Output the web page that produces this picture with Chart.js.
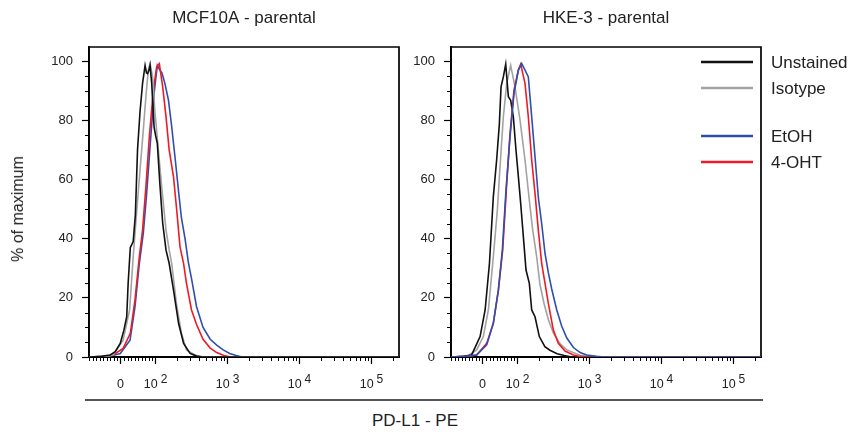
<!DOCTYPE html>
<html><head><meta charset="utf-8">
<script src="https://cdn.jsdelivr.net/npm/chart.js@4.4.1/dist/chart.umd.min.js"></script>
<style>
html,body{margin:0;padding:0;background:#fff;}
body{width:851px;height:435px;position:relative;overflow:hidden;font-family:"Liberation Sans",Arial,sans-serif;color:#222;}
canvas.panel{position:absolute;top:0;}
#ytitle{position:absolute;left:18px;top:209px;transform:translate(-50%,-50%) rotate(-90deg);white-space:nowrap;font-size:16px;line-height:16px;}
#xtitle{position:absolute;left:415px;top:412px;transform:translateX(-50%);white-space:nowrap;font-size:17px;line-height:17px;}
#xline{position:absolute;left:85px;top:399px;width:678px;height:1.5px;background:#555;}
</style></head><body>
<canvas id="c0" class="panel" width="410" height="400" style="left:0px"></canvas>
<canvas id="c1" class="panel" width="489" height="400" style="left:362px"></canvas>
<div id="ytitle">% of maximum</div>
<div id="xline"></div>
<div id="xtitle">PD-L1 - PE</div>
<script>
// ---------- data ----------
// x values are positions on the biexponential (logicle) display scale, in decades:
// 2 = 10^2, 3 = 10^3 ... ; the "0" of the data sits at X_ZERO.
const panelTitles = ['MCF10A - parental', 'HKE-3 - parental'];
const seriesNames = ['Unstained', 'Isotype', 'EtOH', '4-OHT'];
const X_MIN = 1.076, X_MAX = 5.382, X_ZERO = 1.514;
const Y_MAX = 104.8;
const xTickPos  = [X_ZERO, 2, 3, 4, 5];
const xTickBase = ['0', '10', '10', '10', '10'];
const xTickExp  = ['', '2', '3', '4', '5'];
const yTicks = [0, 20, 40, 60, 80, 100];

const mcfUnstained = [[1.08,0],[1.25,0.2],[1.37,0.7],[1.44,1.8],[1.51,4.6],[1.56,9],[1.60,13.6],[1.62,25],[1.65,37],[1.69,39],[1.72,48],[1.75,70],[1.785,83],[1.82,92.5],[1.855,98.6],[1.875,96],[1.89,95.8],[1.91,97],[1.924,98.6],[1.947,92.5],[1.98,77.8],[2.0,75],[2.025,72.2],[2.06,58.7],[2.10,45.2],[2.146,36.1],[2.19,31.6],[2.25,22.6],[2.32,11.4],[2.39,4.6],[2.48,1.2],[2.57,0.3],[2.65,0],[5.38,0]];
const mcfIsotype = [[1.08,0],[1.30,0.2],[1.41,0.7],[1.55,5.7],[1.64,15.9],[1.69,33.9],[1.74,49.7],[1.785,63.2],[1.83,76.7],[1.87,89.1],[1.90,97],[1.924,99.2],[1.96,94.7],[1.99,83.4],[2.04,69.9],[2.09,56.4],[2.146,42.9],[2.19,36.1],[2.225,31.6],[2.29,18.1],[2.36,8],[2.43,2.4],[2.55,0.7],[2.66,0],[5.38,0]];
const mcfEtOH = [[1.08,0],[1.35,0.2],[1.51,1.2],[1.646,5.7],[1.715,17],[1.775,31.6],[1.83,41.8],[1.877,55.3],[1.924,71.1],[1.98,89.1],[2.025,98.6],[2.06,97],[2.09,96],[2.13,92.5],[2.18,86.8],[2.225,77.8],[2.27,67.7],[2.32,56],[2.36,47],[2.41,40],[2.456,32],[2.50,26.5],[2.57,17],[2.66,10],[2.76,6],[2.85,4],[2.94,2.4],[3.03,1.2],[3.12,0.5],[3.2,0],[5.38,0]];
const mcfOHT = [[1.08,0],[1.30,0.2],[1.41,0.7],[1.55,2.9],[1.65,8],[1.715,19.3],[1.775,33.9],[1.82,42.9],[1.87,58.7],[1.914,74.4],[1.97,90.2],[2.016,98.1],[2.053,99.2],[2.10,91.3],[2.146,81.2],[2.19,69.9],[2.25,60.9],[2.29,50.8],[2.34,37.3],[2.39,31.6],[2.43,24.9],[2.50,15.9],[2.57,11],[2.66,6],[2.76,3],[2.85,1.5],[2.95,0.5],[3.05,0],[5.38,0]];

const hkeUnstained = [[1.08,0],[1.25,0.2],[1.363,0.7],[1.48,6.9],[1.55,15.9],[1.61,31.6],[1.664,54.2],[1.71,66.6],[1.748,78.9],[1.771,91.3],[1.803,94.7],[1.836,99],[1.873,88],[1.905,86.8],[1.942,81.2],[1.979,69.9],[2.012,60.9],[2.044,51.9],[2.081,40.7],[2.118,29.4],[2.164,24.9],[2.197,15.9],[2.243,13.6],[2.303,6.9],[2.38,3.5],[2.45,2.3],[2.55,1.1],[2.65,0.5],[2.75,0],[5.38,0]];
const hkeIsotype = [[1.08,0],[1.3,0.3],[1.433,2.4],[1.525,6.9],[1.595,15.9],[1.664,33.9],[1.72,49.7],[1.757,64.3],[1.803,81.2],[1.85,92.5],[1.905,98.6],[1.965,91.3],[2.035,80.1],[2.104,66.6],[2.164,53],[2.211,42.9],[2.266,33.9],[2.312,24.5],[2.368,18.1],[2.43,12.5],[2.5,8],[2.59,4.5],[2.68,2.5],[2.77,1.5],[2.87,0.6],[2.97,0.2],[3.05,0],[5.38,0]];
const hkeEtOH = [[1.08,0],[1.3,0.2],[1.433,0.7],[1.572,4.1],[1.664,11.4],[1.734,22.6],[1.789,36.1],[1.84,56.4],[1.896,74.4],[1.951,89.1],[2.012,97],[2.058,99.2],[2.104,97],[2.15,94.7],[2.197,81.2],[2.243,67.7],[2.289,54],[2.336,45],[2.382,35],[2.428,28.5],[2.475,23],[2.544,16],[2.613,10.5],[2.683,6.5],[2.776,3.2],[2.87,1.5],[2.96,0.7],[3.1,0.2],[3.2,0],[5.38,0]];
const hkeOHT = [[1.08,0],[1.3,0.2],[1.433,0.7],[1.572,4.6],[1.664,11.4],[1.734,22.6],[1.794,36.1],[1.85,58.7],[1.896,75.6],[1.951,90.2],[2.012,97],[2.044,99],[2.104,92.5],[2.15,81.2],[2.197,66.6],[2.243,55.3],[2.289,42.9],[2.336,31.6],[2.382,24.9],[2.428,18.1],[2.498,9.1],[2.567,4.6],[2.66,2],[2.776,0.7],[2.87,0.2],[2.95,0],[5.38,0]];

// ---------- style ----------
const FONT = '"Liberation Sans", Arial, sans-serif';
const seriesColors = ['#111111', '#a3a3a3', '#2f4fae', '#ec1c26'];
const TEXT = '#222';

// minor tick positions on the display scale
const xMinor = [];
for (let v = -90; v <= 90; v += 10) { if (v !== 0) xMinor.push(X_ZERO + v / 100 * (2 - X_ZERO)); }
for (let k = 2; k <= 5; k++) for (let m = 2; m <= 9; m++) xMinor.push(k + Math.log10(m));
const yMinor = [];
for (let v = 5; v <= 100; v += 5) if (v % 20 !== 0) yMinor.push(v);

const framePlugin = {
  id: 'frame',
  beforeDatasetsDraw(chart) {
    const {ctx, chartArea: {left, top, right, bottom}} = chart;
    ctx.save();
    ctx.strokeStyle = '#000'; ctx.lineWidth = 1.7;
    ctx.beginPath();
    ctx.moveTo(left, bottom); ctx.lineTo(left, top); ctx.lineTo(right, top); ctx.lineTo(right, bottom);
    ctx.stroke();
    ctx.restore();
  },
  afterDraw(chart) {
    const {ctx, chartArea: {left, bottom}} = chart;
    const xs = chart.scales.x, ys = chart.scales.y;
    ctx.save();
    ctx.strokeStyle = '#000'; ctx.lineWidth = 1;
    ctx.beginPath();
    xMinor.forEach(v => {
      if (v <= X_MIN || v >= X_MAX) return;
      const px = Math.round(xs.getPixelForValue(v)) + 0.5;
      ctx.moveTo(px, bottom); ctx.lineTo(px, bottom + 4);
    });
    yMinor.forEach(v => {
      const py = Math.round(ys.getPixelForValue(v)) + 0.5;
      ctx.moveTo(left - 4, py); ctx.lineTo(left, py);
    });
    ctx.stroke();
    // x tick labels with superscript exponents
    ctx.fillStyle = TEXT;
    ctx.textBaseline = 'alphabetic';
    ctx.textAlign = 'left';
    xTickPos.forEach((pos, i) => {
      const px = xs.getPixelForValue(pos);
      const baseFont = '12.5px ' + FONT, expFont = '12px ' + FONT;
      ctx.font = baseFont;
      const wb = ctx.measureText(xTickBase[i]).width;
      ctx.font = expFont;
      const we = xTickExp[i] ? ctx.measureText(xTickExp[i]).width : 0;
      const gap = xTickExp[i] ? 3 : 0;
      const x0 = px - (wb + gap + we) / 2;
      ctx.font = baseFont;
      ctx.fillText(xTickBase[i], x0, bottom + 31);
      if (xTickExp[i]) { ctx.font = expFont; ctx.fillText(xTickExp[i], x0 + wb + gap, bottom + 26); }
    });
    ctx.restore();
  }
};

const legendRowsY = [15, 41, 89, 115];
const legendPlugin = {
  id: 'sideLegend',
  afterDraw(chart) {
    const {ctx, chartArea: {top, right}} = chart;
    ctx.save();
    seriesNames.forEach((name, i) => {
      const y = top + legendRowsY[i];
      ctx.strokeStyle = seriesColors[i]; ctx.lineWidth = 2.5;
      ctx.beginPath(); ctx.moveTo(right - 60, y); ctx.lineTo(right - 8, y); ctx.stroke();
      ctx.fillStyle = TEXT; ctx.font = '17px ' + FONT;
      ctx.textBaseline = 'middle'; ctx.textAlign = 'left';
      ctx.fillText(name, right + 10, y + 1.5);
    });
    ctx.restore();
  }
};

function makeChart(id, title, series, order, padRight, withLegend) {
  const datasets = order.map(i => ({
    label: seriesNames[i],
    data: series[i],
    borderColor: seriesColors[i],
    backgroundColor: seriesColors[i],
    borderWidth: 1.6,
    pointRadius: 0,
    tension: 0,
    fill: false
  }));
  const axisGrid = { display: true, drawOnChartArea: false, drawTicks: true, tickLength: 7, tickWidth: 1.2, tickColor: '#000' };
  return new Chart(document.getElementById(id), {
    type: 'line',
    data: { datasets },
    options: {
      responsive: false,
      animation: false,
      devicePixelRatio: 1,
      events: [],
      layout: { padding: { left: 0, right: padRight, top: 0, bottom: 0 } },
      plugins: {
        legend: { display: false },
        tooltip: { enabled: false },
        title: {
          display: true, text: title, fullSize: false, color: TEXT,
          font: { family: FONT, size: 17, weight: 'normal', lineHeight: 1.2 },
          padding: { top: 8, bottom: 18.6 }
        }
      },
      scales: {
        x: {
          type: 'linear', min: X_MIN, max: X_MAX,
          afterBuildTicks: s => { s.ticks = xTickPos.map(v => ({ value: v })); },
          afterFit: s => { s.height = 43; },
          ticks: { display: false },
          grid: axisGrid,
          border: { display: true, color: '#000', width: 2 }
        },
        y: {
          type: 'linear', min: 0, max: Y_MAX,
          afterBuildTicks: s => { s.ticks = yTicks.map(v => ({ value: v })); },
          afterFit: s => { s.width = 89; },
          ticks: { color: TEXT, font: { family: FONT, size: 13 }, padding: 9 },
          grid: axisGrid,
          border: { display: true, color: '#000', width: 1.7 }
        }
      }
    },
    plugins: withLegend ? [framePlugin, legendPlugin] : [framePlugin]
  });
}

makeChart('c0', panelTitles[0], [mcfUnstained, mcfIsotype, mcfEtOH, mcfOHT], [0, 1, 3, 2], 11, false);
makeChart('c1', panelTitles[1], [hkeUnstained, hkeIsotype, hkeEtOH, hkeOHT], [2, 3, 0, 1], 90, true);
</script>
</body></html>
